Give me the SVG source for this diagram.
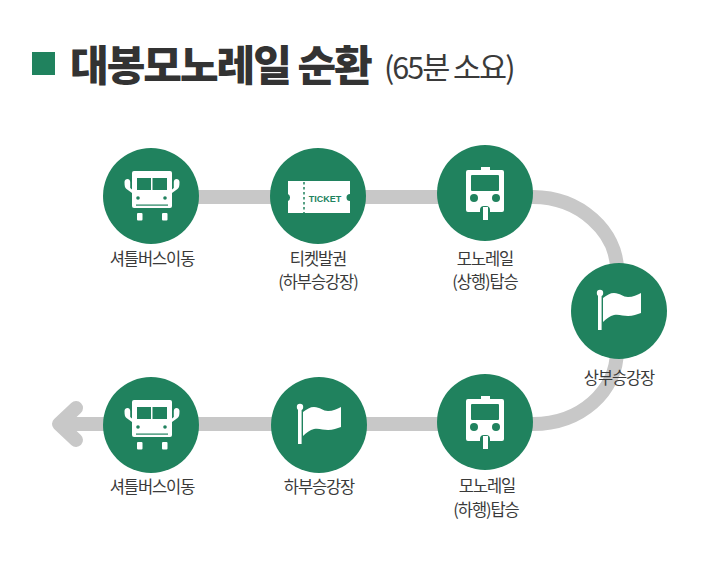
<svg xmlns="http://www.w3.org/2000/svg" width="705" height="561" viewBox="0 0 705 561">
<style>
text{font-family:"Noto Sans CJK KR","Liberation Sans",sans-serif;fill:#3a3a3a;text-anchor:middle;font-size:16.500px;letter-spacing:-1.100px}
.c{fill:#20825e}.w{fill:#fff}.g{fill:#20825e}
.l{fill:none;stroke:#c8c8c8;stroke-width:14}
</style>
<defs>
<g id="bus">
<path class="w" d="M-17-25h36a2 2 0 0 1 2 2v33a2 2 0 0 1-2 2h-36a2 2 0 0 1-2-2v-33a2 2 0 0 1 2-2z"/>
<rect class="g" x="-14" y="-18" width="14" height="12"/><rect class="g" x="1.500" y="-18" width="14.500" height="12"/>
<path class="w" d="M-19-3L-24.500-7C-26-8-26.500-10-26.500-14C-26.500-16-25-17-23.500-17C-22-17-20.800-16-20.800-14V-8L-19-6.500zM21-3L26.500-7C28-8 28.500-10 28.500-14C28.500-16 27-17 25.500-17C24-17 22.800-16 22.800-14V-8L21-6.500z"/>
<circle class="g" cx="-13" cy="2" r="1.800"/><circle class="g" cx="14" cy="2" r="1.800"/>
<rect class="g" x="-15" y="8.500" width="32" height="1.200"/>
<rect class="w" x="-14" y="17" width="5.500" height="7.500" rx="1"/><rect class="w" x="11" y="17" width="5.500" height="7.500" rx="1"/>
</g>
<g id="train">
<path class="w" d="M-17-23h13v-3h9v3h12a2 2 0 0 1 2 2v38a2 2 0 0 1-2 2h-12v-2a4 4 0 0 0-4-4h-2a4 4 0 0 0-4 4v2h-12a2 2 0 0 1-2-2v-38a2 2 0 0 1 2-2z"/>
<path class="g" d="M-13-18h26a1 1 0 0 1 1 1v14a1 1 0 0 1-1 1h-26a1 1 0 0 1-1-1v-14a1 1 0 0 1 1-1z"/>
<circle class="g" cx="-11" cy="5" r="4"/><circle class="g" cx="11" cy="5" r="4"/>
<rect class="w" x="-2" y="14" width="5" height="13"/>
</g>
<g id="flag">
<circle class="w" cx="-19" cy="-18" r="3.200"/><rect class="w" x="-21" y="-18" width="3.600" height="37"/>
<path class="w" d="M-16-13C-12-16-9-18-5-18C1-18 4-14 9-14C14-14 18-16 22-18V2C18 3 14 5 9 5C4 5 0 3-5 4C-9 5-13 8-16 11z"/>
</g>
</defs>
<g id="title">
<rect class="c" x="32" y="52" width="23" height="23"/>
<text x="70" y="81" style="text-anchor:start;font-size:42px;font-weight:900;letter-spacing:-2px;fill:#333">대봉모노레일 순환</text>
<text x="384" y="79" style="text-anchor:start;font-size:30.500px;letter-spacing:-2px;fill:#3a3a3a">(65분 소요)</text>
</g>
<g id="connectors">
<path class="l" d="M151 197H533C580 197 617 232 617 270"/>
<path class="l" d="M617 350C617 392 580 424 533 424H60"/>
<path class="l" stroke-linecap="round" stroke-linejoin="round" d="M76 408L59 424L76 440"/>
</g>
<g id="node-shuttle-1"><circle class="c" cx="151" cy="196" r="48"/><use href="#bus" x="151" y="196"/><text x="152" y="265">셔틀버스이동</text></g>
<g id="node-ticket"><circle class="c" cx="318" cy="196" r="48"/>
<path class="w" d="M288 181h62v13a3.500 3.500 0 0 0 0 7v12h-62v-12a4 4 0 0 0 0-7z"/>
<path stroke="#20825e" stroke-width="1.500" stroke-dasharray="2.500 2.500" fill="none" d="M304 182v32"/>
<text x="325" y="202" style="font-size:9px;font-weight:700;letter-spacing:0;fill:#20825e;font-family:'Liberation Sans',sans-serif">TICKET</text>
<text x="318" y="265">티켓발권</text><text x="318" y="288">(하부승강장)</text></g>
<g id="node-monorail-up"><circle class="c" cx="485" cy="193" r="48"/><use href="#train" x="485" y="193"/><text x="485" y="265">모노레일</text><text x="485" y="288">(상행)탑승</text></g>
<g id="node-upper-station"><circle class="c" cx="619" cy="311" r="48"/><use href="#flag" x="619" y="311"/><text x="619" y="384">상부승강장</text></g>
<g id="node-monorail-down"><circle class="c" cx="485" cy="422" r="48"/><use href="#train" x="485" y="422"/><text x="487" y="492">모노레일</text><text x="486" y="516">(하행)탑승</text></g>
<g id="node-lower-station"><circle class="c" cx="319" cy="425" r="48"/><use href="#flag" x="319" y="425"/><text x="319" y="493">하부승강장</text></g>
<g id="node-shuttle-2"><circle class="c" cx="151" cy="425" r="48"/><use href="#bus" x="151" y="425"/><text x="152" y="493">셔틀버스이동</text></g>
</svg>
